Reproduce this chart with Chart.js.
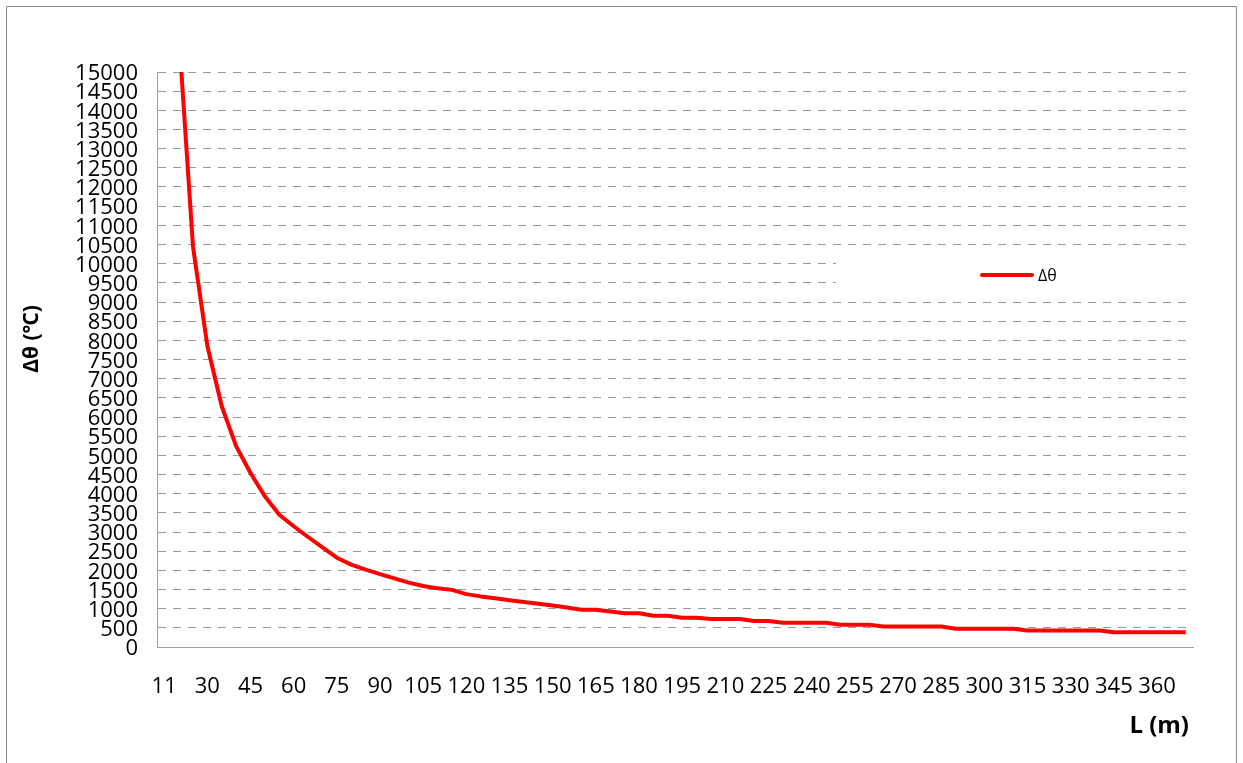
<!DOCTYPE html>
<html>
<head>
<meta charset="utf-8">
<title>Δθ – L</title>
<script src="https://cdn.jsdelivr.net/npm/chart.js@4.4.1/dist/chart.umd.min.js"></script>
<style>
  html, body { margin: 0; padding: 0; background: #ffffff; }
  #wrap { position: relative; width: 1243px; height: 763px; }
  canvas { display: block; }
</style>
</head>
<body>
<div id="wrap"><canvas id="chart" width="1243" height="763"></canvas></div>
<script>
// Pipe length L (m), one category per row of the table
const lengths = [
  11, 20, 25, 30, 35, 40, 45, 50, 55, 60, 65, 70, 75, 80, 85, 90, 95, 100,
  105, 110, 115, 120, 125, 130, 135, 140, 145, 150, 155, 160, 165, 170, 175, 180,
  185, 190, 195, 200, 205, 210, 215, 220, 225, 230, 235, 240, 245, 250, 255, 260,
  265, 270, 275, 280, 285, 290, 295, 300, 305, 310, 315, 320, 325, 330, 335, 340,
  345, 350, 355, 360, 365, 370
];

// Temperature difference Δθ (℃) for each length
const deltaTheta = [
  42000, 16100, 10450, 7850, 6280, 5240, 4540, 3930, 3450, 3150, 2870, 2600,
  2330, 2150, 2020, 1900, 1790, 1680, 1590, 1530, 1490, 1380, 1320, 1270,
  1220, 1175, 1130, 1085, 1030, 970, 970, 925, 880, 880, 817, 817,
  765, 765, 730, 730, 730, 678, 678, 630, 630, 630, 630, 582,
  582, 582, 537, 537, 537, 537, 537, 475, 475, 475, 475, 475,
  430, 430, 430, 430, 430, 430, 385, 385, 385, 385, 385, 385
];

// Value axis range and step
const yMin = 0;
const yMax = 15000;
const yStep = 500;

// Only every third category carries a label on the horizontal axis
const labelEvery = 3;

const seriesName = 'Δθ';
const yTitle = 'Δθ (℃)';
const xTitle = 'L (m)';

const tickFont = { family: '"Open Sans", "Noto Sans", sans-serif', size: 22 };
const lineColor = '#ff0000';

// Outer frame of the chart area
const framePlugin = {
  id: 'frame',
  beforeDraw(chart) {
    const ctx = chart.ctx;
    ctx.save();
    ctx.fillStyle = '#ffffff';
    ctx.fillRect(0, 0, chart.width, chart.height);
    ctx.strokeStyle = '#8a8a8a';
    ctx.lineWidth = 1;
    ctx.beginPath();
    ctx.moveTo(6.5, chart.height + 2);
    ctx.lineTo(6.5, 6.5);
    ctx.lineTo(1236.5, 6.5);
    ctx.lineTo(1236.5, chart.height + 2);
    ctx.stroke();
    ctx.restore();
  }
};

// Axis titles and the series key
const annotatePlugin = {
  id: 'annotate',
  afterDatasetsDraw(chart) {
    const ctx = chart.ctx;
    const area = chart.chartArea;
    ctx.save();

    // series key on a white box
    ctx.fillStyle = '#ffffff';
    ctx.fillRect(836, 258, area.right - 836, 34);
    ctx.strokeStyle = lineColor;
    ctx.lineWidth = 4;
    ctx.lineCap = 'round';
    ctx.beginPath();
    ctx.moveTo(982, 275);
    ctx.lineTo(1032, 275);
    ctx.stroke();
    ctx.fillStyle = '#000000';
    ctx.font = '16px "Open Sans", "Noto Sans", sans-serif';
    ctx.textAlign = 'left';
    ctx.textBaseline = 'middle';
    ctx.fillText(seriesName, 1038, 276);

    // horizontal axis title
    ctx.font = 'bold 24px "Open Sans", "Noto Sans", sans-serif';
    ctx.textAlign = 'right';
    ctx.textBaseline = 'alphabetic';
    ctx.fillText(xTitle, 1189, 733);

    // vertical axis title
    ctx.translate(32, 339);
    ctx.rotate(-Math.PI / 2);
    ctx.font = 'bold 21px "Open Sans", "Noto Sans", "DejaVu Sans", sans-serif';
    ctx.textAlign = 'center';
    ctx.textBaseline = 'middle';
    ctx.fillText(yTitle, 0, 0);

    ctx.restore();
  }
};

new Chart(document.getElementById('chart'), {
  type: 'line',
  data: {
    labels: lengths,
    datasets: [{
      label: seriesName,
      data: deltaTheta,
      borderColor: lineColor,
      backgroundColor: lineColor,
      borderWidth: 4,
      pointRadius: 0,
      pointHoverRadius: 0,
      tension: 0,
      fill: false,
      borderJoinStyle: 'round',
      borderCapStyle: 'butt',
      clip: 0
    }]
  },
  options: {
    responsive: false,
    animation: false,
    events: [],
    layout: { padding: { top: 72, right: 50, bottom: 0, left: 0 } },
    plugins: {
      legend: { display: false },
      tooltip: { enabled: false },
      title: { display: false }
    },
    scales: {
      x: {
        type: 'category',
        offset: true,
        grid: { display: false, drawTicks: false },
        border: { display: true, color: '#a0a0a0', width: 1 },
        ticks: {
          color: '#000000',
          font: tickFont,
          padding: 27,
          autoSkip: false,
          maxRotation: 0,
          minRotation: 0,
          callback(value, index) {
            return index % labelEvery === 0 ? String(lengths[index]) : '';
          }
        },
        afterFit(scale) { scale.height = 116; }
      },
      y: {
        type: 'linear',
        min: yMin,
        max: yMax,
        grid: { display: true, color: '#999999', lineWidth: 1, drawTicks: false },
        border: { display: true, color: '#a0a0a0', width: 1, dash: [8, 7] },
        ticks: {
          stepSize: yStep,
          color: '#000000',
          font: tickFont,
          padding: 19,
          labelOffset: 2,
          autoSkip: false,
          callback(value) { return String(value); }
        },
        afterFit(scale) { scale.width = 157; }
      }
    }
  },
  plugins: [framePlugin, annotatePlugin]
});
</script>
</body>
</html>
